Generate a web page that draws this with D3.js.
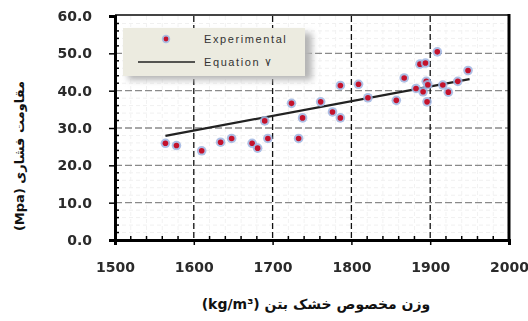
<!DOCTYPE html>
<html>
<head>
<meta charset="utf-8">
<script src="https://cdn.jsdelivr.net/npm/d3@7"></script>
<style>
body { margin: 0; background: #fff; }
svg { display: block; }
</style>
</head>
<body>
<svg width="528" height="321"></svg>
<script>
// measured points: dry density (kg/m3) vs compressive strength (MPa)
var density = [1564, 1578, 1610, 1634, 1648, 1674, 1681, 1690, 1694, 1724,
	1733, 1738, 1761, 1776, 1786, 1786, 1809, 1821, 1857, 1867,
	1882, 1887, 1894, 1891, 1895, 1897, 1896, 1909, 1916, 1923,
	1935, 1948];
var strength = [25.9, 25.3, 23.9, 26.2, 27.2, 25.9, 24.6, 31.9, 27.2, 36.6,
	27.2, 32.7, 37.0, 34.3, 32.7, 41.4, 41.7, 38.1, 37.4, 43.4,
	40.6, 47.1, 47.4, 39.7, 42.5, 41.6, 37.0, 50.4, 41.5, 39.6,
	42.5, 45.4];

// equation 7 fitted line ends
var fitDensity = [1564, 1950];
var fitStrength = [27.9, 43.1];

var xTicks = [1500, 1600, 1700, 1800, 1900, 2000];
var yTicks = [0, 10, 20, 30, 40, 50, 60];
var legendLabels = ["Experimental", "Equation \u06F7"];

var plotLeft = 115, plotRight = 509, plotTop = 16, plotBottom = 240;

var canvas = d3.select("svg");

var x = d3.scaleLinear().domain([1500, 2000]).range([plotLeft, plotRight]);
var y = d3.scaleLinear().domain([0, 60]).range([plotBottom, plotTop]);

var defs = canvas.append("defs");
var blur = defs.append("filter").attr("id", "shadow")
	.attr("x", "-20%").attr("y", "-20%").attr("width", "150%").attr("height", "160%");
blur.append("feGaussianBlur").attr("stdDeviation", 3);

var soft = defs.append("filter").attr("id", "soft");
soft.append("feGaussianBlur").attr("stdDeviation", 0.4);

// faint minor grid
var grid = canvas.append("g");
grid.selectAll(".minorY")
	.data(d3.range(0, 61, 2).filter(function(d) { return d % 10 != 0; }))
	.enter().append("line")
	.attr("x1", plotLeft).attr("x2", plotRight)
	.attr("y1", function(d) { return y(d); })
	.attr("y2", function(d) { return y(d); })
	.style("stroke", "#f0f0f0")
	.style("stroke-dasharray", "4,3");

grid.selectAll(".minorX")
	.data(d3.range(1500, 2001, 20).filter(function(d) { return d % 100 != 0; }))
	.enter().append("line")
	.attr("y1", plotTop).attr("y2", plotBottom)
	.attr("x1", function(d) { return x(d); })
	.attr("x2", function(d) { return x(d); })
	.style("stroke", "#f2f2f2")
	.style("stroke-dasharray", "4,3");

// major grid
grid.selectAll(".gy")
	.data(yTicks.slice(1, 6))
	.enter().append("line")
	.attr("x1", plotLeft).attr("x2", plotRight)
	.attr("y1", function(d) { return y(d); })
	.attr("y2", function(d) { return y(d); })
	.style("stroke", "#8a8a8a")
	.style("stroke-width", 1.3)
	.style("stroke-dasharray", "7,3");

grid.selectAll(".gx")
	.data(xTicks.slice(1, 5))
	.enter().append("line")
	.attr("y1", plotTop).attr("y2", plotBottom)
	.attr("x1", function(d) { return x(d); })
	.attr("x2", function(d) { return x(d); })
	.style("stroke", "#111")
	.style("stroke-width", 1.3)
	.style("stroke-dasharray", "6,3");

// frame top/right
canvas.append("line")
	.attr("x1", plotLeft).attr("x2", plotRight).attr("y1", plotTop - 1).attr("y2", plotTop - 1)
	.style("stroke", "#444").style("stroke-width", 2);
canvas.append("line")
	.attr("x1", plotRight).attr("x2", plotRight).attr("y1", plotTop - 2).attr("y2", plotBottom + 1)
	.style("stroke", "#000").style("stroke-width", 3);

// fitted line
canvas.append("line")
	.attr("x1", x(fitDensity[0])).attr("y1", y(fitStrength[0]))
	.attr("x2", x(fitDensity[1])).attr("y2", y(fitStrength[1]))
	.style("stroke", "#222")
	.style("stroke-width", 2.2);

// points
var pts = canvas.append("g").selectAll(".pt")
	.data(density.map(function(d, i) { return [d, strength[i]]; }))
	.enter().append("g")
	.attr("transform", function(d) { return "translate(" + x(d[0]) + "," + y(d[1]) + ")"; });
pts.append("circle").attr("r", 4.8).style("fill", "#9fb4e0").style("opacity", 0.85);
pts.append("circle").attr("r", 2.8).style("fill", "#c4122c");

// axes
var yAxis = d3.axisLeft(y).tickValues(yTicks).tickSize(6).tickPadding(17)
	.tickFormat(d3.format(".1f"));
var xAxis = d3.axisBottom(x).tickValues(xTicks).tickSize(5).tickPadding(17)
	.tickFormat(d3.format("d"));

var gy = canvas.append("g").attr("transform", "translate(" + plotLeft + ",0)").call(yAxis);
var gx = canvas.append("g").attr("transform", "translate(0," + plotBottom + ")").call(xAxis);

[gx, gy].forEach(function(g) {
	g.select(".domain").style("stroke", "#000").style("stroke-width", 3);
	g.selectAll(".tick line").style("stroke", "#000").style("stroke-width", 1.5);
	g.selectAll("text")
		.attr("font-family", "DejaVu Sans")
		.attr("font-weight", "bold")
		.attr("font-size", 14)
		.style("fill", "#2a2a2a")
		.attr("filter", "url(#soft)");
});

// minor ticks inside
canvas.append("g").selectAll("line")
	.data(d3.range(0, 61, 2).filter(function(d) { return d % 10 != 0; }))
	.enter().append("line")
	.attr("x1", plotLeft).attr("x2", plotLeft + 4)
	.attr("y1", function(d) { return y(d); })
	.attr("y2", function(d) { return y(d); })
	.style("stroke", "#000").style("stroke-width", 1.5);

canvas.append("g").selectAll("line")
	.data(d3.range(1500, 2001, 20).filter(function(d) { return d % 100 != 0; }))
	.enter().append("line")
	.attr("y1", plotBottom).attr("y2", plotBottom - 4)
	.attr("x1", function(d) { return x(d); })
	.attr("x2", function(d) { return x(d); })
	.style("stroke", "#000").style("stroke-width", 1.5);

// legend
var legend = canvas.append("g");
legend.append("rect")
	.attr("x", 128).attr("y", 33).attr("width", 184).attr("height", 47)
	.style("fill", "#b5b5b5")
	.attr("filter", "url(#shadow)");
legend.append("rect")
	.attr("x", 123).attr("y", 28).attr("width", 182).attr("height", 48)
	.style("fill", "#ecebe0");

legend.append("circle").attr("cx", 166).attr("cy", 39).attr("r", 4.2)
	.style("fill", "#9fb4e0").style("opacity", 0.85);
legend.append("circle").attr("cx", 166).attr("cy", 39).attr("r", 2.4)
	.style("fill", "#c4122c");
legend.append("line")
	.attr("x1", 138).attr("x2", 195).attr("y1", 62).attr("y2", 62)
	.style("stroke", "#222").style("stroke-width", 1.6);

legend.selectAll("text")
	.data(legendLabels)
	.enter().append("text")
	.attr("x", 204)
	.attr("y", function(d, i) { return 43 + i * 23; })
	.attr("font-family", "Liberation Sans")
	.attr("font-size", 11)
	.style("letter-spacing", "1.6px")
	.style("fill", "#333")
	.text(function(d) { return d; });

// axis titles
canvas.append("text")
	.attr("transform", "translate(24,156) rotate(-90)")
	.attr("text-anchor", "middle")
	.attr("direction", "rtl")
	.attr("font-family", "DejaVu Sans")
	.attr("font-weight", "bold")
	.attr("font-size", 13)
	.style("fill", "#111")
	.text("مقاومت فشاری (Mpa)");

canvas.append("text")
	.attr("x", 316)
	.attr("y", 309)
	.attr("text-anchor", "middle")
	.attr("direction", "rtl")
	.attr("font-family", "DejaVu Sans")
	.attr("font-weight", "bold")
	.attr("font-size", 14)
	.style("fill", "#111")
	.text("وزن مخصوص خشک بتن (kg/m\u00B3)");
</script>
</body>
</html>
